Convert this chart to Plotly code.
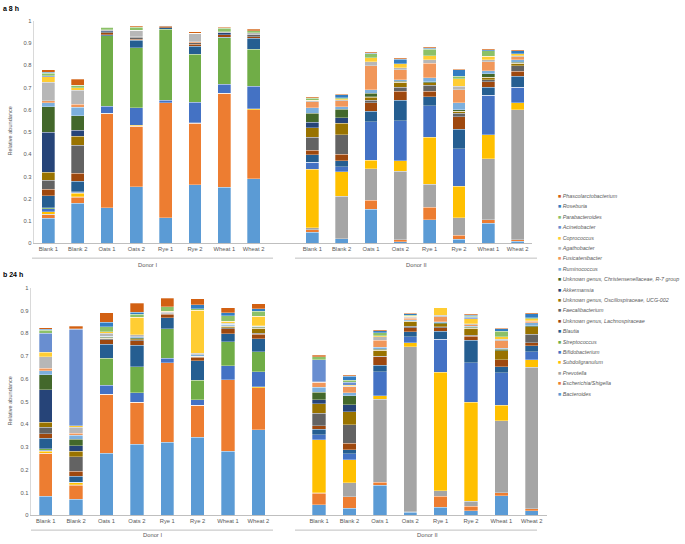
import plotly.graph_objects as go

W, H = 685, 544
FONT = "Liberation Sans, Arial, sans-serif"
TXT = "#595959"

samples = ["Blank 1", "Blank 2", "Oats 1", "Oats 2", "Rye 1", "Rye 2", "Wheat 1", "Wheat 2"]
donors = ["Donor I", "Donor II"]

# stacking order: bottom -> top
genera = [
    "Bacteroides", "Escherichia/Shigella", "Prevotella", "Subdoligranulum",
    "Bifidobacterium", "Streptococcus", "Blautia", "Unknown genus, Lachnospiraceae",
    "Faecalibacterium", "Unknown genus, Oscillospiraceae, UCG-002", "Akkermansia",
    "Unknown genus, Christensenellaceae, R-7 group", "Ruminococcus", "Fusicatenibacter",
    "Agathobacter", "Coprococcus", "Acinetobacter", "Parabacteroides", "Roseburia",
    "Phascolarctobacterium",
]
colors = [
    "#5B9BD5", "#ED7D31", "#A5A5A5", "#FFC000", "#4472C4", "#70AD47",
    "#255E91", "#9E480E", "#636363", "#997300", "#264478", "#43682B",
    "#7CAFDD", "#F1975A", "#B7B7B7", "#FFCD33", "#698ED0", "#8CC168",
    "#327DC2", "#D26012",
]

# ---- a: 8 h (Donor I x8, then Donor II x8) ----
bacteroides_8h = [0.113, 0.18, 0.16, 0.254, 0.114, 0.263, 0.251, 0.291, 0.05, 0.021, 0.154, 0.006, 0.105, 0.018, 0.09, 0.01]
escherichia_8h = [0.015, 0.027, 0.423, 0.273, 0.518, 0.276, 0.424, 0.31, 0.011, 0, 0.04, 0.01, 0.056, 0.018, 0.017, 0.006]
prevotella_8h = [0.003, 0.002, 0.002, 0, 0, 0, 0, 0, 0.009, 0.19, 0.141, 0.308, 0.104, 0.078, 0.272, 0.585]
subdoligranulum_8h = [0.012, 0.016, 0, 0.003, 0, 0.003, 0, 0.004, 0.262, 0.11, 0.038, 0.048, 0.211, 0.142, 0.108, 0.03]
bifidobacterium_8h = [0.012, 0.004, 0.03, 0.079, 0.011, 0.093, 0.041, 0.1, 0.032, 0.024, 0.174, 0.178, 0.142, 0.169, 0.178, 0.071]
streptococcus_8h = [0.005, 0.002, 0.317, 0.27, 0.32, 0.214, 0.207, 0.168, 0, 0, 0, 0, 0, 0, 0, 0]
blautia_8h = [0.054, 0.048, 0.005, 0.034, 0.005, 0.037, 0.003, 0.049, 0.035, 0.025, 0.047, 0.094, 0.04, 0.088, 0.037, 0.049]
lachnospiraceae_8h = [0.03, 0.037, 0.01, 0.004, 0.007, 0.008, 0.012, 0.007, 0.019, 0.03, 0.037, 0.04, 0.025, 0.056, 0.025, 0.022]
faecalibacterium_8h = [0.04, 0.125, 0.003, 0.008, 0.004, 0.008, 0, 0.008, 0.059, 0.088, 0.012, 0.018, 0.027, 0.015, 0.009, 0.026]
oscillospiraceae_8h = [0.035, 0.04, 0, 0.003, 0, 0, 0, 0, 0.043, 0.052, 0.013, 0.021, 0.011, 0.01, 0.011, 0.011]
akkermansia_8h = [0.18, 0.027, 0.005, 0, 0, 0, 0.008, 0, 0.024, 0.025, 0.002, 0, 0, 0, 0, 0]
christensenellaceae_8h = [0.115, 0.066, 0, 0, 0, 0, 0, 0, 0.04, 0.037, 0.017, 0.006, 0.004, 0.007, 0.014, 0.004]
ruminococcus_8h = [0.018, 0.037, 0, 0, 0, 0, 0, 0, 0.025, 0.012, 0.016, 0.006, 0.019, 0.03, 0.015, 0.01]
fusicatenibacter_8h = [0.008, 0.015, 0, 0, 0, 0.003, 0, 0, 0.027, 0.027, 0.107, 0.044, 0.065, 0.059, 0.04, 0.015]
agathobacter_8h = [0.083, 0.062, 0.004, 0.03, 0, 0.036, 0.005, 0.01, 0.004, 0.004, 0.017, 0.009, 0.015, 0.015, 0.008, 0.004]
coprococcus_8h = [0.025, 0.012, 0, 0, 0, 0.004, 0, 0, 0.004, 0.004, 0.02, 0.019, 0.019, 0.034, 0.016, 0.01]
acinetobacter_8h = [0.005, 0, 0, 0, 0, 0, 0, 0, 0, 0, 0, 0, 0, 0, 0, 0]
parabacteroides_8h = [0.012, 0.01, 0.012, 0.012, 0.004, 0, 0.015, 0.008, 0.008, 0.005, 0.016, 0, 0.03, 0.011, 0.025, 0]
roseburia_8h = [0.004, 0, 0, 0.003, 0, 0, 0.003, 0, 0.003, 0.013, 0.004, 0.021, 0.004, 0.029, 0.005, 0.012]
phascolarctobacterium_8h = [0.01, 0.027, 0.003, 0.005, 0, 0.006, 0.003, 0.008, 0.004, 0.004, 0.004, 0.004, 0.004, 0.003, 0.005, 0.004]

# ---- b: 24 h ----
bacteroides_24h = [0.083, 0.071, 0.272, 0.313, 0.322, 0.342, 0.281, 0.375, 0.046, 0.03, 0.132, 0.013, 0.035, 0.02, 0.086, 0.02]
escherichia_24h = [0.189, 0.061, 0.261, 0.184, 0.348, 0.142, 0.315, 0.186, 0.05, 0.051, 0.014, 0.003, 0.048, 0.019, 0.014, 0.008]
prevotella_24h = [0, 0.003, 0, 0, 0, 0, 0, 0, 0.003, 0.062, 0.365, 0.726, 0.024, 0.022, 0.316, 0.623]
subdoligranulum_24h = [0.009, 0.007, 0, 0, 0, 0, 0, 0.003, 0.232, 0.102, 0.014, 0.017, 0.522, 0.435, 0.068, 0.032]
bifidobacterium_24h = [0.005, 0.003, 0.039, 0.041, 0.021, 0.025, 0.062, 0.068, 0.023, 0.025, 0.106, 0.025, 0.145, 0.174, 0.142, 0.037]
streptococcus_24h = [0.007, 0, 0.118, 0.116, 0.129, 0.084, 0.104, 0.087, 0, 0, 0, 0, 0, 0, 0, 0]
blautia_24h = [0.046, 0.027, 0.062, 0.094, 0.048, 0.087, 0.037, 0.058, 0.024, 0.018, 0.028, 0.022, 0.036, 0.1, 0.028, 0.025]
lachnospiraceae_24h = [0.019, 0.022, 0.019, 0.019, 0.015, 0.014, 0.021, 0.019, 0.015, 0.029, 0.037, 0.019, 0.015, 0.018, 0.03, 0.014]
faecalibacterium_24h = [0.028, 0.063, 0.005, 0.004, 0.004, 0.003, 0.005, 0.005, 0.055, 0.08, 0.004, 0.006, 0.004, 0.003, 0, 0.037]
oscillospiraceae_24h = [0.023, 0.024, 0.003, 0.005, 0, 0.003, 0.005, 0.021, 0.042, 0.058, 0.025, 0.022, 0.014, 0.032, 0.039, 0.033]
akkermansia_24h = [0.143, 0.025, 0, 0, 0, 0, 0, 0, 0.019, 0.032, 0, 0, 0, 0, 0, 0]
christensenellaceae_24h = [0.065, 0.029, 0.004, 0.004, 0, 0, 0.004, 0.004, 0.033, 0.038, 0.005, 0.003, 0.003, 0.003, 0.006, 0.004]
ruminococcus_24h = [0.019, 0.016, 0.004, 0.005, 0, 0.005, 0.005, 0.004, 0.02, 0.013, 0.008, 0.003, 0.004, 0.006, 0.006, 0.013]
fusicatenibacter_24h = [0.01, 0.01, 0, 0, 0, 0, 0, 0, 0.022, 0.026, 0.032, 0.008, 0.022, 0.006, 0.032, 0.006]
agathobacter_24h = [0.051, 0.026, 0.013, 0.008, 0.005, 0.008, 0.005, 0.004, 0, 0.004, 0.014, 0.004, 0.008, 0.004, 0.008, 0.004]
coprococcus_24h = [0.019, 0.006, 0.007, 0.078, 0.004, 0.188, 0.01, 0.041, 0.003, 0.004, 0.006, 0.004, 0.032, 0.022, 0.011, 0.008]
acinetobacter_24h = [0.084, 0.425, 0, 0, 0, 0, 0, 0, 0.097, 0.013, 0, 0, 0, 0.006, 0, 0]
parabacteroides_24h = [0.014, 0.003, 0.022, 0.012, 0.02, 0.008, 0.024, 0.022, 0.013, 0.008, 0.013, 0.004, 0, 0.004, 0.024, 0.004]
roseburia_24h = [0.003, 0, 0.019, 0.01, 0, 0.017, 0.012, 0.01, 0, 0.019, 0.008, 0.006, 0, 0.006, 0.01, 0.019]
phascolarctobacterium_24h = [0.007, 0.011, 0.043, 0.04, 0.039, 0.025, 0.022, 0.022, 0.007, 0.004, 0.004, 0.004, 0, 0.003, 0.003, 0.003]

series_8h = [bacteroides_8h, escherichia_8h, prevotella_8h, subdoligranulum_8h, bifidobacterium_8h,
             streptococcus_8h, blautia_8h, lachnospiraceae_8h, faecalibacterium_8h, oscillospiraceae_8h,
             akkermansia_8h, christensenellaceae_8h, ruminococcus_8h, fusicatenibacter_8h, agathobacter_8h,
             coprococcus_8h, acinetobacter_8h, parabacteroides_8h, roseburia_8h, phascolarctobacterium_8h]
series_24h = [bacteroides_24h, escherichia_24h, prevotella_24h, subdoligranulum_24h, bifidobacterium_24h,
              streptococcus_24h, blautia_24h, lachnospiraceae_24h, faecalibacterium_24h, oscillospiraceae_24h,
              akkermansia_24h, christensenellaceae_24h, ruminococcus_24h, fusicatenibacter_24h, agathobacter_24h,
              coprococcus_24h, acinetobacter_24h, parabacteroides_24h, roseburia_24h, phascolarctobacterium_24h]

# category slots: Donor I in 0..7, an empty slot, Donor II in 9..16
x_slots = list(range(8)) + list(range(9, 17))
tick_text = samples + samples


def px(x):
    return x / W


def py(y):
    return 1 - y / H


fig = go.Figure()
for name, color, v8, v24 in zip(genera, colors, series_8h, series_24h):
    fig.add_trace(go.Bar(x=x_slots, y=v8, name=name, marker=dict(color=color, line=dict(color="white", width=0.3)),
                         xaxis="x", yaxis="y", showlegend=False))
    fig.add_trace(go.Bar(x=x_slots, y=v24, name=name, marker=dict(color=color, line=dict(color="white", width=0.3)),
                         xaxis="x2", yaxis="y2", showlegend=False))

tickfont = dict(family=FONT, size=5.8, color=TXT)
xcommon = dict(range=[-0.5, 16.5], tickvals=x_slots, ticktext=tick_text, tickfont=tickfont,
               showline=True, linecolor="#BFBFBF", linewidth=1, ticks="", showgrid=False, zeroline=False,
               fixedrange=True)
ycommon = dict(range=[0, 1], tickvals=[i / 10 for i in range(11)],
               ticktext=["0"] + [f"0.{i}" for i in range(1, 10)] + ["1"], tickfont=tickfont,
               showline=True, linecolor="#D9D9D9", linewidth=1, ticks="", showgrid=False, zeroline=False,
               fixedrange=True)

fig.update_layout(
    width=W, height=H, margin=dict(l=0, r=0, t=0, b=0),
    paper_bgcolor="white", plot_bgcolor="white",
    barmode="stack", bargap=0.56, showlegend=False,
    font=dict(family=FONT, color=TXT),
    xaxis=dict(domain=[px(33.7), px(532.3)], anchor="y", **xcommon),
    yaxis=dict(domain=[py(243), py(18)], anchor="x", **ycommon),
    xaxis2=dict(domain=[px(30.6), px(546.9)], anchor="y2", **xcommon),
    yaxis2=dict(domain=[py(518), py(288)], anchor="x2", **ycommon),
)

ann = []
shapes = []
# panel labels
for label, y in [("a 8 h", 6), ("b 24 h", 275)]:
    ann.append(dict(text=f"<b>{label}</b>", x=px(1), y=py(y), xref="paper", yref="paper",
                    xanchor="left", yanchor="middle", showarrow=False,
                    font=dict(family=FONT, size=7, color="black")))
# y titles
for y in [130, 403]:
    ann.append(dict(text="Relative abundance", x=px(10), y=py(y), xref="paper", yref="paper",
                    textangle=-90, xanchor="center", yanchor="middle", showarrow=False,
                    font=dict(family=FONT, size=5.6, color=TXT)))
# donor group lines
for lx1, lx2, ly in [(32, 273, 258), (295, 537, 258), (31, 273, 533), (295, 537, 533)]:
    shapes.append(dict(type="line", xref="paper", yref="paper", x0=px(lx1), x1=px(lx2), y0=py(ly), y1=py(ly),
                       line=dict(color="#BFBFBF", width=1)))
donor_label_pos = [(147, 265), (416, 265), (152, 538), (427, 538)]
for i, (tx, ty) in enumerate(donor_label_pos):
    ann.append(dict(text=donors[i % 2], x=px(tx), y=py(ty), xref="paper", yref="paper",
                    xanchor="center", yanchor="middle", showarrow=False, borderpad=0,
                    font=dict(family=FONT, size=5.8, color=TXT)))

# legend (top entry = last series, as in the source)
leg_top, leg_step = 195, 10.53
for i, (name, color) in enumerate(zip(genera[::-1], colors[::-1])):
    ann.append(dict(text=f"<span style='color:{color}'>■</span> <i>{name}</i>",
                    x=px(557), y=py(leg_top + i * leg_step), xref="paper", yref="paper",
                    xanchor="left", yanchor="middle", showarrow=False, borderpad=0,
                    font=dict(family=FONT, size=5.35, color=TXT)))

fig.update_layout(annotations=ann, shapes=shapes)
fig.write_html(
    "out.html",
    config={"displayModeBar": False, "staticPlot": True},
    post_script="document.body.style.margin='0';document.body.style.overflow='hidden';",
)
